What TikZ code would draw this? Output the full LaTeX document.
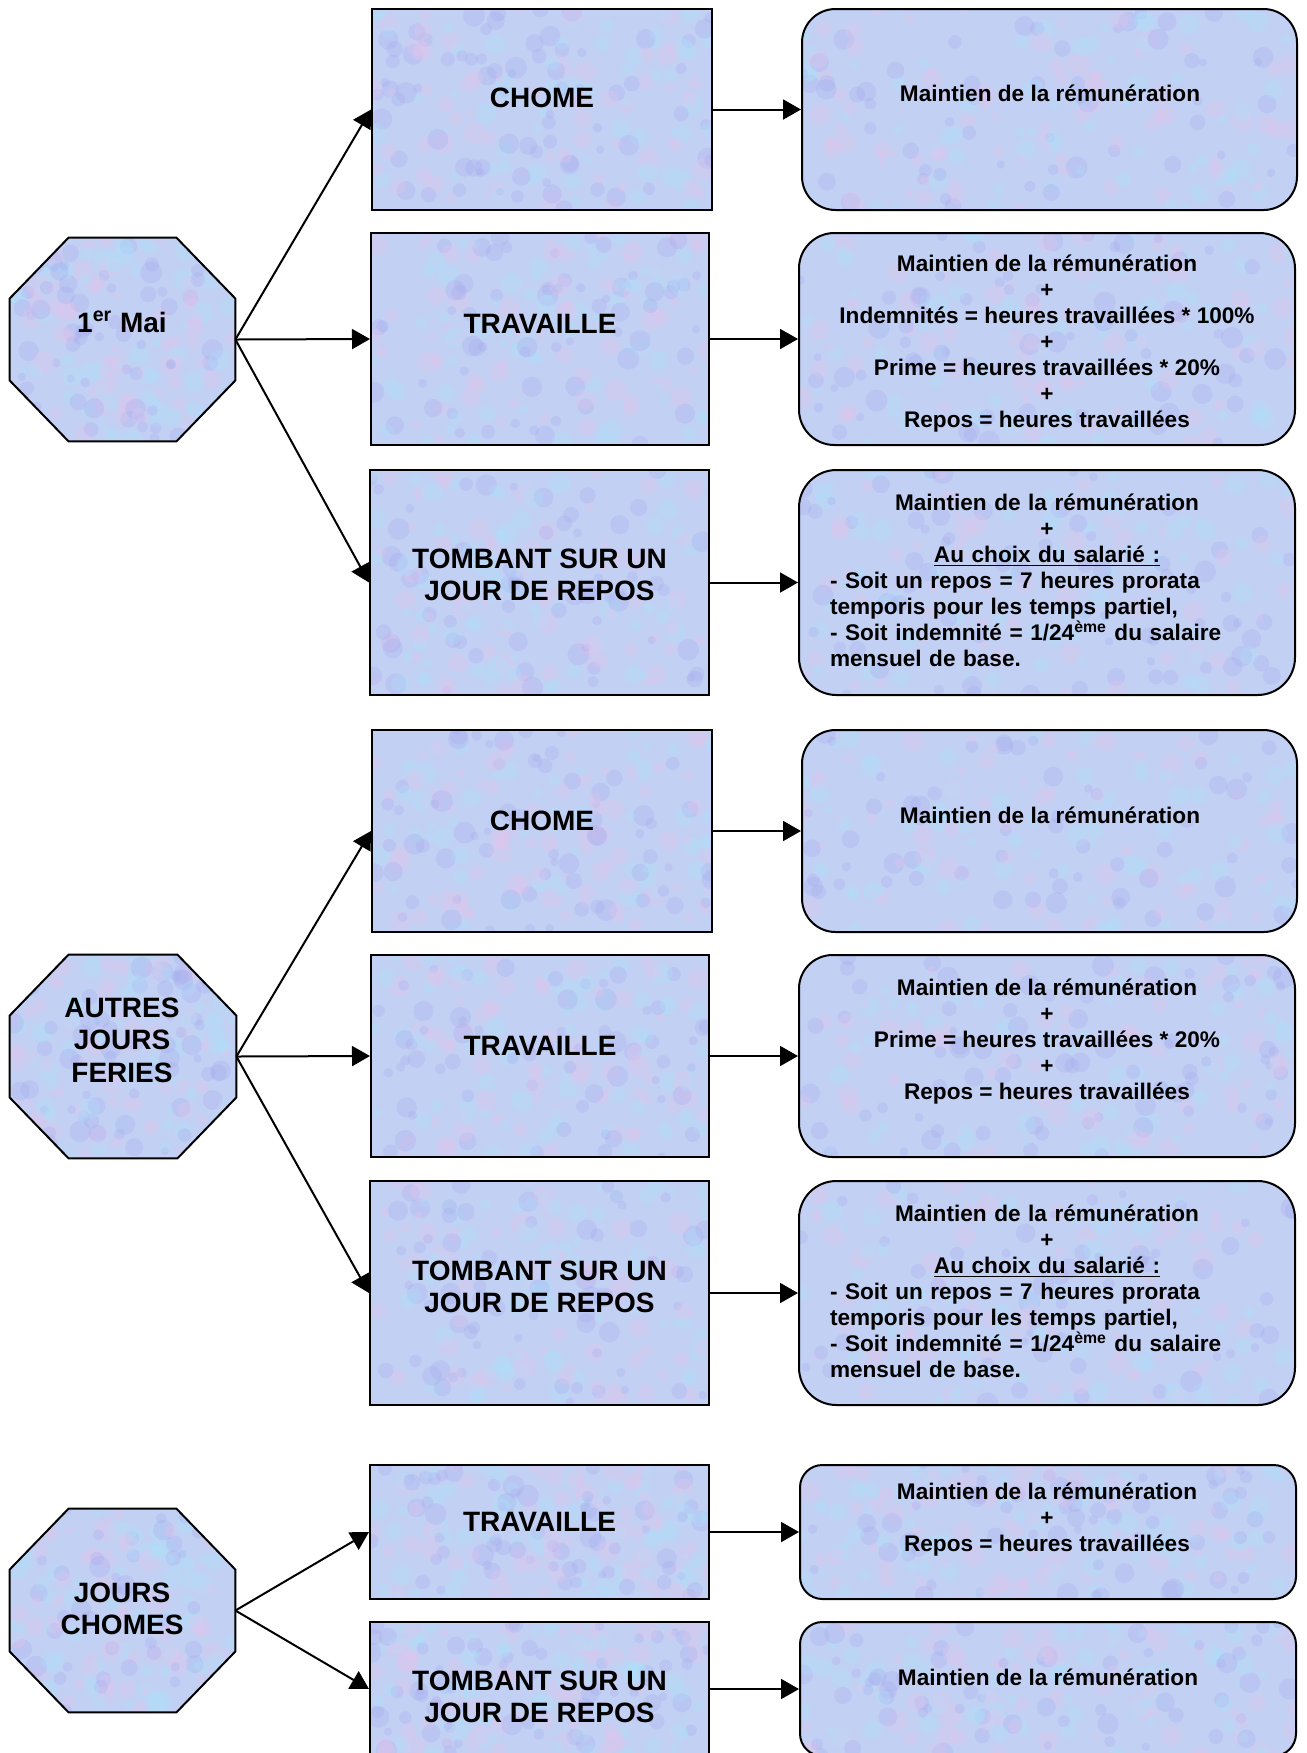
\documentclass[tikz,border=0pt]{standalone}
\usepackage{fontspec}
\setmainfont{Liberation Sans}
\usetikzlibrary{calc,arrows.meta}
\definecolor{mbase}{RGB}{194,208,244}
\definecolor{mc0}{RGB}{172,226,250}
\definecolor{mc1}{RGB}{168,172,238}
\definecolor{mc2}{RGB}{230,196,236}
\definecolor{mc3}{RGB}{172,226,250}
\tikzset{
  marble/.style={fill=mbase, path picture={
    \coordinate (mSW) at (path picture bounding box.south west);
    \coordinate (mNE) at (path picture bounding box.north east);
    \foreach \k in {1,...,200}{
      \pgfmathsetmacro{\ra}{rnd}
      \pgfmathsetmacro{\rb}{rnd}
      \pgfmathtruncatemacro{\rc}{3*rnd}
      \pgfmathsetmacro{\rr}{4+7*rnd}
      \coordinate (mPA) at ($(mSW)!\ra!(mNE)$);
      \coordinate (mPB) at ($(mSW)!\rb!(mNE)$);
      \fill[fill=mc\rc, opacity=0.3] (mPA |- mPB) circle[radius=\rr];
    }
  }},
  box/.style={draw, line width=1pt, marble, inner sep=0pt, rectangle},
  rbox/.style={box, rounded corners=#1},
  octo/.style={draw, line width=1pt, marble},
  frame/.style={inner sep=0pt, minimum width=#1},
  bigtxt/.style={font=\fontsize{14}{16.2}\selectfont\bfseries, align=center, inner sep=0pt},
  smtxt/.style={font=\fontsize{11.3}{13}\selectfont\bfseries, align=center, inner sep=0pt},
  arr/.style={-{Triangle[length=9pt,width=10pt]}, line width=1pt},
}
\newcommand{\octpath}[1]{($(#1.north west)+(59,0)$) -- ($(#1.north east)+(-59,0)$) -- ($(#1.north east)+(0,61)$) -- ($(#1.south east)+(0,-61)$) -- ($(#1.south east)+(-59,0)$) -- ($(#1.south west)+(59,0)$) -- ($(#1.south west)+(0,-61)$) -- ($(#1.north west)+(0,61)$) -- cycle}
\begin{document}
\begin{tikzpicture}[x=0.5pt,y=-0.5pt]
\pgfmathsetseed{7}
\fill[white] (0,0) rectangle (1307,1753);
\useasboundingbox (0,0) rectangle (1307,1753);

% ---------- Section 1 ----------
\node[frame=112.5pt, minimum height=101.5pt] (o1) at (122.5,339.5) {};
\path[octo] \octpath{o1};
\node[bigtxt] (o1t) at (122,322) {1\textsuperscript{er} Mai};

\node[box, minimum width=170pt, minimum height=100.5pt] (c1) at (542,109.5) {};
\node[box, minimum width=169pt, minimum height=106pt] (t1) at (540,339) {};
\node[box, minimum width=169.5pt, minimum height=112.5pt] (b1) at (539.5,582.5) {};
\node[bigtxt] (c1t) at (542,98) {CHOME};
\node[bigtxt] (t1t) at (540,324) {TRAVAILLE};
\node[bigtxt] (b1t) at (539.5,575) {TOMBANT SUR UN\\JOUR DE REPOS};

\node[rbox=16.75pt, minimum width=247.5pt, minimum height=100.5pt] (r1) at (1049.5,109.5) {};
\node[rbox=17.7pt, minimum width=248pt, minimum height=106pt] (r2) at (1047,339) {};
\node[rbox=18.75pt, minimum width=248pt, minimum height=112.5pt] (r3) at (1047,582.5) {};
\node[smtxt] (r1t) at (1050,93) {Maintien de la rémunération};
\node[smtxt] (r2t) at (1047,343.5) {Maintien de la rémunération\\+\\Indemnités = heures travaillées * 100\%\\+\\Prime = heures travaillées * 20\%\\+\\Repos = heures travaillées};
\node[smtxt, text width=217pt, align=left] (r3t) at (1047,580.5) {\parindent=0pt\parskip=0pt{\centering Maintien de la rémunération\par +\par \underline{Au choix du salarié :}\par}- Soit un repos = 7 heures prorata\par temporis pour les temps partiel,\par - Soit indemnité = 1/24\textsuperscript{ème} du salaire\par mensuel de base.};

\draw[arr] (o1.east) -- (c1.west);
\draw[arr] (o1.east) -- (t1.west);
\draw[arr] (o1.east) -- (b1.west);
\draw[arr] (c1.east) -- (r1.west);
\draw[arr] (t1.east) -- (r2.west);
\draw[arr] (b1.east) -- (r3.west);

% ---------- Section 2 ----------
\node[frame=113pt, minimum height=101.5pt] (o2) at (123,1056.5) {};
\path[octo] \octpath{o2};
\node[bigtxt] (o2t) at (122,1040) {AUTRES\\JOURS\\FERIES};

\node[box, minimum width=170pt, minimum height=101pt] (c2) at (542,831) {};
\node[box, minimum width=169pt, minimum height=101pt] (t2) at (540,1056) {};
\node[box, minimum width=169.5pt, minimum height=112pt] (b2) at (539.5,1293) {};
\node[bigtxt] (c2t) at (542,821) {CHOME};
\node[bigtxt] (t2t) at (540,1046) {TRAVAILLE};
\node[bigtxt] (b2t) at (539.5,1287) {TOMBANT SUR UN\\JOUR DE REPOS};

\node[rbox=16.8pt, minimum width=247.5pt, minimum height=101pt] (r4) at (1049.5,831) {};
\node[rbox=16.8pt, minimum width=248pt, minimum height=101pt] (r5) at (1047,1056) {};
\node[rbox=18.7pt, minimum width=248pt, minimum height=112pt] (r6) at (1047,1293) {};
\node[smtxt] (r4t) at (1050,815) {Maintien de la rémunération};
\node[smtxt] (r5t) at (1047,1041.5) {Maintien de la rémunération\\+\\Prime = heures travaillées * 20\%\\+\\Repos = heures travaillées};
\node[smtxt, text width=217pt, align=left] (r6t) at (1047,1291.5) {\parindent=0pt\parskip=0pt{\centering Maintien de la rémunération\par +\par \underline{Au choix du salarié :}\par}- Soit un repos = 7 heures prorata\par temporis pour les temps partiel,\par - Soit indemnité = 1/24\textsuperscript{ème} du salaire\par mensuel de base.};

\draw[arr] (o2.east) -- (c2.west);
\draw[arr] (o2.east) -- (t2.west);
\draw[arr] (o2.east) -- (b2.west);
\draw[arr] (c2.east) -- (r4.west);
\draw[arr] (t2.east) -- (r5.west);
\draw[arr] (b2.east) -- (r6.west);

% ---------- Section 3 ----------
\node[frame=112.5pt, minimum height=101.5pt] (o3) at (122.5,1610.5) {};
\path[octo] \octpath{o3};
\node[bigtxt] (o3t) at (122,1609) {JOURS\\CHOMES};

\node[box, minimum width=169.5pt, minimum height=67pt] (t3) at (539.5,1532) {};
\node[box, minimum width=169.5pt, minimum height=67pt] (b3) at (539.5,1689) {};
\node[bigtxt] (t3t) at (539.5,1522) {TRAVAILLE};
\node[bigtxt] (b3t) at (539.5,1697) {TOMBANT SUR UN\\JOUR DE REPOS};

\node[rbox=11.2pt, minimum width=248pt, minimum height=67pt] (r7) at (1048,1532) {};
\node[rbox=11.2pt, minimum width=248pt, minimum height=67pt] (r8) at (1048,1689) {};
\node[smtxt] (r7t) at (1047,1520) {Maintien de la rémunération\\+\\Repos = heures travaillées};
\node[smtxt] (r8t) at (1048,1677) {Maintien de la rémunération};

\draw[arr] (o3.east) -- (t3.west);
\draw[arr] (o3.east) -- (b3.west);
\draw[arr] (t3.east) -- (r7.west);
\draw[arr] (b3.east) -- (r8.west);
\end{tikzpicture}
\end{document}
